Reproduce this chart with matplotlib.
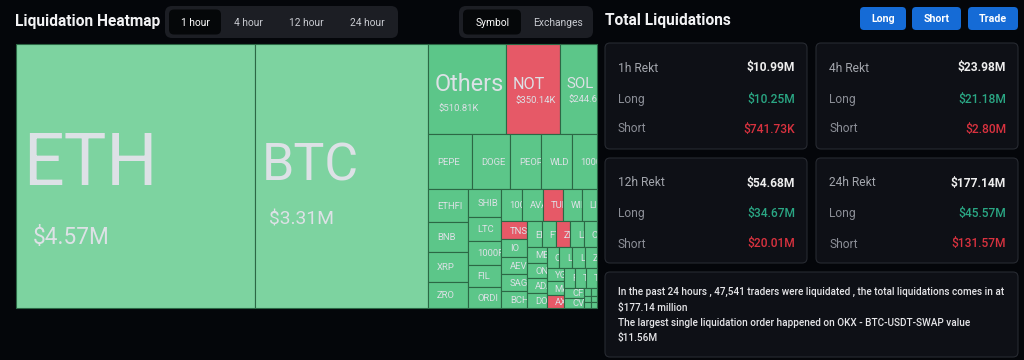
import math
import matplotlib
matplotlib.use("Agg")
import matplotlib.pyplot as plt
from matplotlib.patches import Rectangle, FancyBboxPatch
from matplotlib.transforms import Bbox

plt.rcParams['text.parse_math'] = False
plt.rcParams['font.family'] = ['Roboto', 'DejaVu Sans']

# ---------------- data ----------------
names = ['ETH', 'BTC', 'Others', 'NOT', 'SOL',
         'PEPE', 'DOGE', 'PEOPLE', 'WLD', '1000SATS',
         'ETHFI', 'BNB', 'XRP', 'ZRO',
         'SHIB', 'LTC', '1000RATS', 'FIL', 'ORDI',
         '1000BONK', 'AVAX', 'TURBO', 'WIF', 'LINK',
         'TNSR', 'IO', 'AEVO', 'SAGA', 'BCH',
         'ENA', 'FTM', 'ZK', 'LDO', 'CRV',
         'MEW', 'ONDO', 'ADA', 'DOT',
         'CORE', 'LPT', 'LISTA', 'ZETA',
         'YGG', 'MANTA', 'AXL',
         'FET', 'TIA', 'TRB',
         'CFX', 'CVX',
         'JUP', 'ARB', 'OP', 'SUI', 'APT', 'SEI']
values_k = [4570, 3310, 510.81, 350.14, 244.69,
            177, 149, 123, 122, 99.5,
            98, 89, 88, 77,
            67, 58.5, 58, 52.5, 50.5,
            49, 48.5, 48, 45, 36,
            33, 32.5, 32, 31.5, 31,
            28, 27, 26, 25.5, 25,
            22, 21.8, 21.6, 21.4,
            19.2, 19, 18.8, 18.6,
            17.4, 17.2, 17,
            16, 15.8, 15.6,
            14.3, 13.8,
            4, 3.5, 3.2, 3, 2.8, 2.5]
# dominant liquidation side: 'L' long (green), 'S' short (red)
sides = ['L', 'L', 'L', 'S', 'L',
         'L', 'L', 'L', 'L', 'L',
         'L', 'L', 'L', 'L',
         'L', 'L', 'L', 'L', 'L',
         'L', 'L', 'S', 'L', 'L',
         'S', 'L', 'L', 'L', 'L',
         'L', 'L', 'S', 'L', 'L',
         'L', 'L', 'L', 'L',
         'L', 'L', 'L', 'L',
         'L', 'L', 'S',
         'L', 'L', 'L',
         'L', 'L',
         'L', 'L', 'L', 'L', 'L', 'L']

tabs_time = ['1 hour', '4 hour', '12 hour', '24 hour']
tabs_group = ['Symbol', 'Exchanges']
buttons = ['Long', 'Short', 'Trade']
card_titles = ['1h Rekt', '4h Rekt', '12h Rekt', '24h Rekt']
card_totals = ['$10.99M', '$23.98M', '$54.68M', '$177.14M']
card_longs = ['$10.25M', '$21.18M', '$34.67M', '$45.57M']
card_shorts = ['$741.73K', '$2.80M', '$20.01M', '$131.57M']
summary_lines = ['In the past 24 hours , 47,541 traders were liquidated , the total liquidations comes in at',
                 '$177.14 million',
                 'The largest single liquidation order happened on OKX - BTC-USDT-SWAP value',
                 '$11.56M']

# ---------------- style ----------------
BG = '#04060a'
PILL = '#1c1e24'
ACTIVE = '#050709'
CARD = '#0e1016'
CARD_EDGE = '#272a31'
BLUE = '#156bd6'
GREEN_BIG = '#7dd3a0'
GREEN = '#5cc689'
RED = '#e65967'
CELL_EDGE = '#2c6845'
CELL_TEXT = '#dde1e6'
LONG_TXT = '#2aa784'
SHORT_TXT = '#d9323f'
DPI = 100
PT = 72.0 / DPI   # px -> pt


def fmt_money(v):
    return f"${v / 1000:.2f}M" if v >= 1000 else f"${v:.2f}K"


def squarify_layout(vals, x, y, w, h, ratio=(1 + 5 ** 0.5) / 2):
    total = float(sum(vals))
    areas = [v / total * w * h for v in vals]
    rect = {'x': x, 'y': y, 'w': w, 'h': h}
    out = [None] * len(vals)

    def worst(row, row_area, L):
        amax = max(areas[i] for i in row)
        amin = min(areas[i] for i in row)
        sq = row_area * row_area
        f = L * L * ratio
        return max(f * amax / sq, sq / (f * amin))

    def position(row, row_area, L, flush):
        horiz = (L == rect['w'])
        other = row_area / L if L else 0
        if horiz:
            if flush or other > rect['h']:
                other = rect['h']
            last = rect['x']
            for k, i in enumerate(row):
                step = areas[i] / other if other else 0
                remain = rect['x'] + rect['w'] - last
                mod = remain if (k == len(row) - 1 or remain < step) else step
                out[i] = (last, rect['y'], mod, other)
                last += mod
            rect['y'] += other
            rect['h'] -= other
        else:
            if flush or other > rect['w']:
                other = rect['w']
            last = rect['y']
            for k, i in enumerate(row):
                step = areas[i] / other if other else 0
                remain = rect['y'] + rect['h'] - last
                mod = remain if (k == len(row) - 1 or remain < step) else step
                out[i] = (rect['x'], last, other, mod)
                last += mod
            rect['x'] += other
            rect['w'] -= other

    row, row_area, best = [], 0.0, math.inf
    L = min(w, h)
    i = 0
    while i < len(areas):
        row.append(i)
        row_area += areas[i]
        score = worst(row, row_area, L)
        if score <= best:
            i += 1
            best = score
        else:
            row.pop()
            row_area -= areas[i]
            position(row, row_area, L, False)
            L = min(rect['w'], rect['h'])
            row, row_area, best = [], 0.0, math.inf
    if row:
        position(row, row_area, L, True)
    return out


fig = plt.figure(figsize=(10.24, 3.6), dpi=DPI, facecolor=BG)
ax = fig.add_axes([0, 0, 1, 1])
ax.set_xlim(0, 1024)
ax.set_ylim(360, 0)
ax.axis('off')
ax.set_facecolor(BG)


def rbox(x, y, w, h, r, fc, ec='none', lw=0.0, z=1):
    p = FancyBboxPatch((x, y), w, h, boxstyle=f"round,pad=0,rounding_size={r}",
                       fc=fc, ec=ec, lw=lw, zorder=z)
    ax.add_patch(p)
    return p


def txt(x, y, s, px, color, ha='left', va='center', weight='normal', z=5):
    return ax.text(x, y, s, fontsize=px * PT, color=color, ha=ha, va=va,
                   fontweight=weight, zorder=z)


def clip_to(t, x, y, w, h):
    (ax0, ay0), (ax1, ay1) = ax.transData.transform([(x, y), (x + w, y + h)])
    t.set_clip_box(Bbox.from_extents(min(ax0, ax1), min(ay0, ay1), max(ax0, ax1), max(ay0, ay1)))
    t.set_clip_on(True)


# ---------------- header left ----------------
txt(15, 26, 'Liquidation Heatmap', 15.5, '#f2f2f4', va='baseline', weight='bold')
rbox(165, 6, 233, 32, 7, PILL)
rbox(169, 9.5, 52, 25, 5, ACTIVE, z=2)
for lab, cx, active in zip(tabs_time, [195, 248, 306.5, 367], [True, False, False, False]):
    txt(cx, 22.5, lab, 10.3, '#ffffff' if active else '#c9cbd1', ha='center')
rbox(459, 6, 134, 32, 7, PILL)
rbox(463, 9.5, 58, 25, 5, ACTIVE, z=2)
for lab, cx, active in zip(tabs_group, [492.5, 558], [True, False]):
    txt(cx, 22.5, lab, 10.3, '#ffffff' if active else '#c9cbd1', ha='center')

# ---------------- treemap ----------------
TM_X, TM_Y, TM_W, TM_H = 16, 44, 581, 264
cells = squarify_layout(values_k, TM_X, TM_Y, TM_W, TM_H)
for (x, y, w, h), name, v, side in zip(cells, names, values_k, sides):
    if side == 'S':
        col = RED
    else:
        col = GREEN_BIG if v >= 1000 else GREEN
    r = Rectangle((x, y), w, h, fc=col, ec=CELL_EDGE, lw=0.8, zorder=3)
    ax.add_patch(r)
    if w < 8 or h < 8:
        continue
    cy = y + h / 2
    if h > 70:
        fs_n = max(15.0, 0.3 * w)
        fs_v = max(9.5, 0.09 * math.sqrt(w * h))
        nb = cy + 0.31 * fs_n - 0.58 * fs_v
        vb = nb + 0.7 * fs_n + 0.4 * fs_v
        t1 = txt(x + 7, nb, name, fs_n, CELL_TEXT, va='baseline', z=4)
        t2 = txt(x + 8 + 0.035 * w, vb, fmt_money(v), fs_v, CELL_TEXT, va='baseline', z=4)
        clip_to(t1, x, y, w, h)
        clip_to(t2, x, y, w, h)
    else:
        fs_n = 9.5
        t1 = txt(x + 7 + 0.06 * w, cy + 0.355 * fs_n, name, fs_n, CELL_TEXT, va='baseline', z=4)
        clip_to(t1, x, y, w, h)

# ---------------- right panel ----------------
txt(605, 25, 'Total Liquidations', 15.5, '#f2f2f4', va='baseline', weight='bold')
for lab, bx, bw in zip(buttons, [860, 912, 968], [46, 49, 50]):
    rbox(bx, 7, bw, 23, 4, BLUE)
    txt(bx + bw / 2, 18.5, lab, 10.6, '#ffffff', ha='center', weight='bold')

card_pos = [(605, 43, 202, 106), (816, 43, 202, 106), (605, 158, 202, 105), (816, 158, 202, 105)]
for (cx, cy0, cw, ch), title, tot, lng, sht in zip(card_pos, card_titles, card_totals, card_longs, card_shorts):
    rbox(cx, cy0, cw, ch, 5, CARD, ec=CARD_EDGE, lw=0.8)
    ys = [cy0 + 25, cy0 + 56, cy0 + 86]
    txt(cx + 13, ys[0], title, 12, '#a3a6ad')
    txt(cx + 13, ys[1], 'Long', 12, '#8b8e96')
    txt(cx + 13, ys[2], 'Short', 12, '#8b8e96')
    txt(cx + cw - 12, ys[0], tot, 12, '#eeeeee', ha='right', weight='bold')
    txt(cx + cw - 12, ys[1], lng, 12, LONG_TXT, ha='right', weight='medium')
    txt(cx + cw - 12, ys[2], sht, 12, SHORT_TXT, ha='right', weight='medium')

rbox(605, 272, 413, 85, 5, CARD, ec=CARD_EDGE, lw=0.8)
for line, ly in zip(summary_lines, [292, 307.5, 322.5, 338]):
    txt(618, ly, line, 10.0, '#e6e6e9', weight='medium')

fig.savefig('out.png', dpi=DPI, facecolor=BG)
